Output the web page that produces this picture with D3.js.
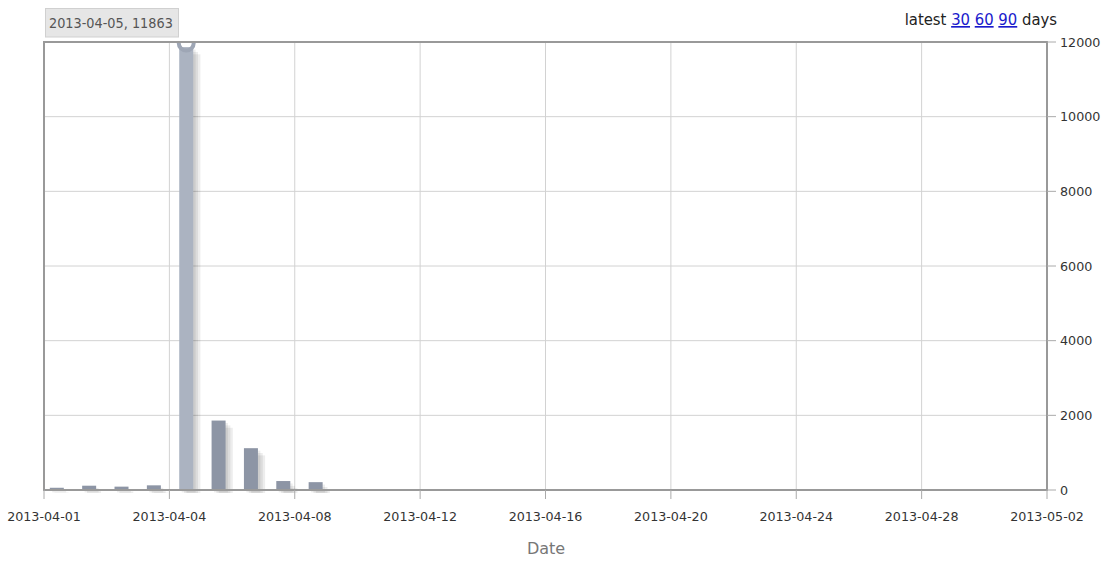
<!DOCTYPE html>
<html><head><meta charset="utf-8">
<script src="https://cdn.jsdelivr.net/npm/d3@7/dist/d3.min.js"></script>
<style>
body{margin:0;background:#fff;}
svg{display:block;font-family:"DejaVu Sans",sans-serif;}
</style></head>
<body>
<svg id="chart" width="1105" height="568"></svg>
<script>
// ---- data ----
const barDates = ["2013-04-01","2013-04-02","2013-04-03","2013-04-04","2013-04-05","2013-04-06","2013-04-07","2013-04-08","2013-04-09"];
const barValues = [60, 115, 90, 125, 11863, 1860, 1120, 240, 210];
const xTickLabels = ["2013-04-01","2013-04-04","2013-04-08","2013-04-12","2013-04-16","2013-04-20","2013-04-24","2013-04-28","2013-05-02"];
const yTicks = [0, 2000, 4000, 6000, 8000, 10000, 12000];
const highlightIndex = 4;
const tooltipText = "2013-04-05, 11863";
const rangeLinks = ["30", "60", "90"];

// ---- layout ----
const L = 44, R = 1047, T = 42, B = 490;
const svg = d3.select("#chart");
const parse = d3.utcParse("%Y-%m-%d");

const xBar = d3.scaleUtc()
  .domain([new Date(Date.UTC(2013,2,31,14,30)), new Date(Date.UTC(2013,4,1,14,30))])
  .range([L, R]);
const xTick = d3.scalePoint().domain(xTickLabels).range([L, R]);
const y = d3.scaleLinear().domain([0, 12000]).range([B, T]);

const barW = 14;

// gridlines
const grid = svg.append("g");
grid.selectAll("line.v").data(xTickLabels).join("line")
  .attr("x1", d => xTick(d)).attr("x2", d => xTick(d))
  .attr("y1", T).attr("y2", B).attr("stroke", "#d2d2d2").attr("stroke-width", 1);
grid.selectAll("line.h").data(yTicks).join("line")
  .attr("x1", L).attr("x2", R)
  .attr("y1", d => y(d)).attr("y2", d => y(d)).attr("stroke", "#d2d2d2").attr("stroke-width", 1);

// clip
svg.append("clipPath").attr("id","plotclip").append("rect")
  .attr("x", L).attr("y", T).attr("width", R - L).attr("height", B - T + 3);

const data = barDates.map((d, i) => ({date: parse(d), v: barValues[i], i}));
const plot = svg.append("g").attr("clip-path", "url(#plotclip)");

// shadows
[1,2,3].forEach(k => {
  plot.append("g").selectAll("rect").data(data).join("rect")
    .attr("x", d => xBar(d.date) - barW/2 + k*2.4)
    .attr("y", d => y(d.v) + k*2.4)
    .attr("width", barW)
    .attr("height", d => B - y(d.v))
    .attr("fill", "#000").attr("opacity", 0.07);
});
// bars
plot.append("g").selectAll("rect").data(data).join("rect")
  .attr("x", d => xBar(d.date) - barW/2)
  .attr("y", d => y(d.v))
  .attr("width", barW)
  .attr("height", d => B - y(d.v))
  .attr("fill", d => d.i === highlightIndex ? "#abb3c1" : "#8d95a5");

// highlight marker
const hd = data[highlightIndex];
svg.append("circle").attr("cx", xBar(hd.date)).attr("cy", y(hd.v) - 4).attr("r", 7.5)
  .attr("fill", "none").attr("stroke", "#9ea6b5").attr("stroke-width", 4)
  .attr("clip-path", "url(#plotclip)");

// frame
svg.append("rect").attr("x", L).attr("y", T).attr("width", R - L).attr("height", B - T)
  .attr("fill", "none").attr("stroke", "#999").attr("stroke-width", 2);

// x ticks
const xa = svg.append("g");
xa.selectAll("line").data(xTickLabels).join("line")
  .attr("x1", d => xTick(d)).attr("x2", d => xTick(d))
  .attr("y1", B).attr("y2", B + 9).attr("stroke", "#aaa");
xa.selectAll("text").data(xTickLabels).join("text")
  .attr("x", d => xTick(d)).attr("y", 521)
  .attr("text-anchor", "middle").attr("font-size", "12.7px").attr("fill", "#333")
  .text(d => d);

// y ticks (right)
const ya = svg.append("g");
ya.selectAll("line").data(yTicks).join("line")
  .attr("x1", R).attr("x2", R + 9)
  .attr("y1", d => y(d)).attr("y2", d => y(d)).attr("stroke", "#aaa");
ya.selectAll("text").data(yTicks).join("text")
  .attr("x", R + 13).attr("y", d => y(d) + 4.6)
  .attr("font-size", "12.7px").attr("fill", "#333")
  .text(d => d);

// axis title
svg.append("text").attr("x", 546).attr("y", 554).attr("text-anchor", "middle")
  .attr("font-size", "16px").attr("fill", "#777").text("Date");

// tooltip
svg.append("rect").attr("x", 45.5).attr("y", 8.5).attr("width", 133).attr("height", 28.5)
  .attr("fill", "#e6e6e6").attr("stroke", "#d0d0d0");
svg.append("text").attr("x", 49).attr("y", 28)
  .attr("font-family", "'DejaVu Sans Condensed','DejaVu Sans',sans-serif")
  .attr("font-size", "14.3px").attr("fill", "#555")
  .text(tooltipText);

// latest links
const t = svg.append("text").attr("x", 1057).attr("y", 25).attr("text-anchor", "end")
  .attr("font-family", "'DejaVu Sans Condensed','DejaVu Sans',sans-serif")
  .attr("font-size", "16.5px").attr("fill", "#222");
t.append("tspan").text("latest ");
rangeLinks.forEach(r => {
  t.append("tspan").attr("fill", "#1a1acc").attr("text-decoration", "underline").text(r);
  t.append("tspan").text(" ");
});
t.append("tspan").text("days");
</script>
</body></html>
